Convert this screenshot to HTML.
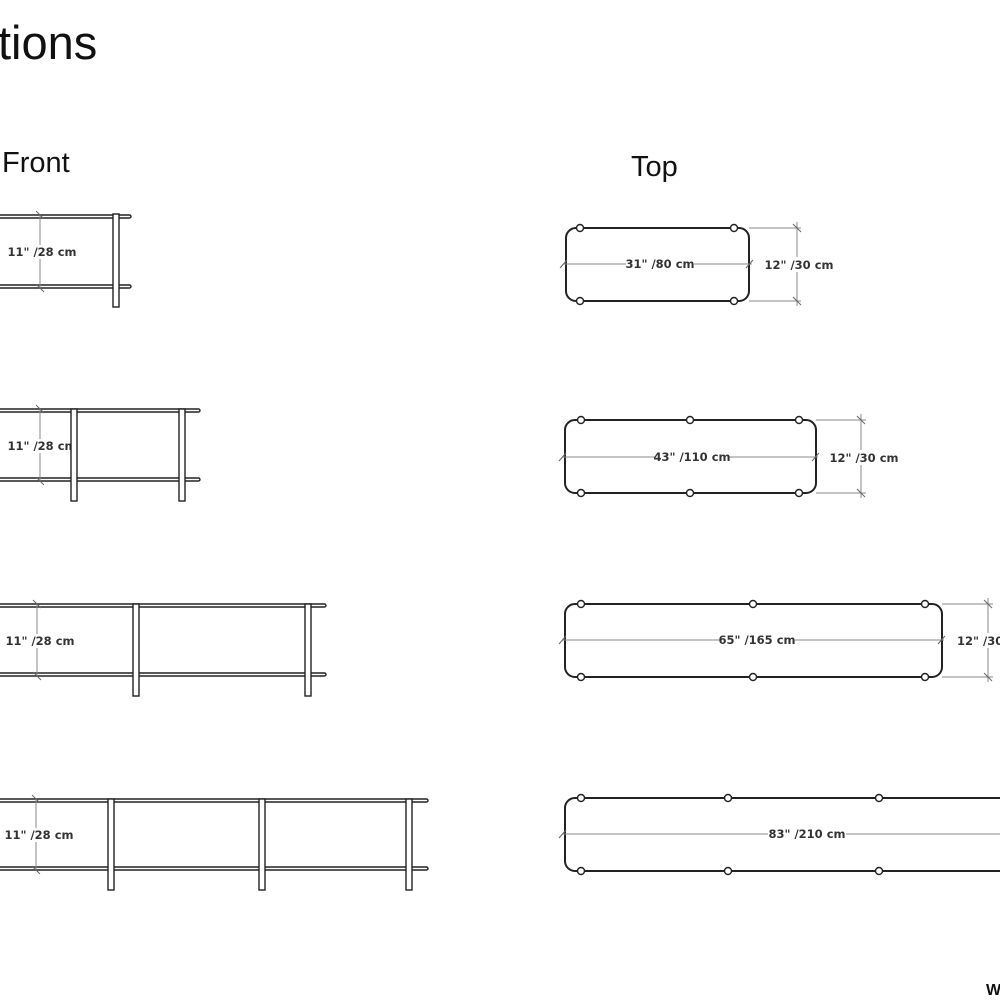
<!DOCTYPE html>
<html><head><meta charset="utf-8"><style>
html,body{margin:0;padding:0;background:#fff;width:1000px;height:1000px;overflow:hidden}
svg{display:block}
.t{font-family:"Liberation Sans",sans-serif;fill:#111}
.l{font-family:"DejaVu Sans","Liberation Sans",sans-serif;font-weight:bold;font-size:11.5px;fill:#333;letter-spacing:0}
.sh{fill:#fff;stroke:#222;stroke-width:1.4}
.dim{stroke:#888;stroke-width:1}
.tk{stroke:#666;stroke-width:1}
.bx{fill:none;stroke:#222;stroke-width:2}
.c{fill:#fff;stroke:#222;stroke-width:1.4}
</style></head><body>
<svg width="1000" height="1000" viewBox="0 0 1000 1000" xmlns="http://www.w3.org/2000/svg">
<text class="t" x="-2" y="59" font-size="47">tions</text>
<text class="t" x="2" y="172" font-size="29">Front</text>
<text class="t" x="631" y="176" font-size="29">Top</text>
<text class="t" x="986" y="995" font-size="16" font-weight="bold">W</text>

<!-- FRONT 1 -->
<rect class="sh" x="-5" y="215" width="136" height="3" rx="1.5"/>
<rect class="sh" x="-5" y="285" width="136" height="3" rx="1.5"/>
<rect class="sh" x="113" y="214" width="6" height="93"/>
<line class="dim" x1="40" y1="215" x2="40" y2="288"/>
<line class="tk" x1="36" y1="211" x2="44" y2="219"/><line class="tk" x1="36" y1="284" x2="44" y2="292"/>
<rect x="8" y="245" width="68" height="14" fill="#fff"/>
<text class="l" x="42" y="256" text-anchor="middle">11" /28 cm</text>

<!-- FRONT 2 -->
<rect class="sh" x="-5" y="409" width="205" height="3" rx="1.5"/>
<rect class="sh" x="-5" y="478" width="205" height="3" rx="1.5"/>
<line class="dim" x1="40" y1="409" x2="40" y2="481"/>
<line class="tk" x1="36" y1="405" x2="44" y2="413"/><line class="tk" x1="36" y1="477" x2="44" y2="485"/>
<rect x="8" y="439" width="66" height="14" fill="#fff"/>
<text class="l" x="42" y="450" text-anchor="middle">11" /28 cm</text>
<rect class="sh" x="71" y="409" width="6" height="92"/>
<rect class="sh" x="179" y="409" width="6" height="92"/>

<!-- FRONT 3 -->
<rect class="sh" x="-5" y="604" width="331" height="3" rx="1.5"/>
<rect class="sh" x="-5" y="673" width="331" height="3" rx="1.5"/>
<line class="dim" x1="37" y1="604" x2="37" y2="676"/>
<line class="tk" x1="33" y1="600" x2="41" y2="608"/><line class="tk" x1="33" y1="672" x2="41" y2="680"/>
<rect x="5" y="634" width="70" height="14" fill="#fff"/>
<text class="l" x="40" y="645" text-anchor="middle">11" /28 cm</text>
<rect class="sh" x="133" y="604" width="6" height="92"/>
<rect class="sh" x="305" y="604" width="6" height="92"/>

<!-- FRONT 4 -->
<rect class="sh" x="-5" y="799" width="433" height="3" rx="1.5"/>
<rect class="sh" x="-5" y="867" width="433" height="3" rx="1.5"/>
<line class="dim" x1="36" y1="799" x2="36" y2="870"/>
<line class="tk" x1="32" y1="795" x2="40" y2="803"/><line class="tk" x1="32" y1="866" x2="40" y2="874"/>
<rect x="4" y="828" width="70" height="14" fill="#fff"/>
<text class="l" x="39" y="839" text-anchor="middle">11" /28 cm</text>
<rect class="sh" x="108" y="799" width="6" height="91"/>
<rect class="sh" x="259" y="799" width="6" height="91"/>
<rect class="sh" x="406" y="799" width="6" height="91"/>

<!-- TOP 1 -->
<rect class="bx" x="566" y="228" width="183" height="73" rx="10"/>
<line class="dim" x1="563" y1="264" x2="752" y2="264"/>
<line class="tk" x1="560" y1="268" x2="567" y2="260"/><line class="tk" x1="746" y1="268" x2="753" y2="260"/>
<rect x="626" y="257" width="68" height="14" fill="#fff"/>
<text class="l" x="660" y="268" text-anchor="middle">31" /80 cm</text>
<line class="dim" x1="749" y1="228" x2="801" y2="228"/><line class="dim" x1="749" y1="301" x2="801" y2="301"/>
<line class="dim" x1="797" y1="222" x2="797" y2="306"/>
<line class="tk" x1="793" y1="224" x2="801" y2="232"/><line class="tk" x1="793" y1="297" x2="801" y2="305"/>
<rect x="764" y="257" width="70" height="15" fill="#fff"/>
<text class="l" x="799" y="269" text-anchor="middle">12" /30 cm</text>
<circle class="c" cx="580" cy="228" r="3.5"/><circle class="c" cx="734" cy="228" r="3.5"/>
<circle class="c" cx="580" cy="301" r="3.5"/><circle class="c" cx="734" cy="301" r="3.5"/>

<!-- TOP 2 -->
<rect class="bx" x="565" y="420" width="251" height="73" rx="10"/>
<line class="dim" x1="562" y1="457" x2="818" y2="457"/>
<line class="tk" x1="559" y1="461" x2="566" y2="453"/><line class="tk" x1="812" y1="461" x2="819" y2="453"/>
<rect x="655" y="450" width="74" height="14" fill="#fff"/>
<text class="l" x="692" y="461" text-anchor="middle">43" /110 cm</text>
<line class="dim" x1="816" y1="420" x2="866" y2="420"/><line class="dim" x1="816" y1="493" x2="866" y2="493"/>
<line class="dim" x1="861" y1="414" x2="861" y2="498"/>
<line class="tk" x1="857" y1="416" x2="865" y2="424"/><line class="tk" x1="857" y1="489" x2="865" y2="497"/>
<rect x="829" y="450" width="70" height="15" fill="#fff"/>
<text class="l" x="864" y="462" text-anchor="middle">12" /30 cm</text>
<circle class="c" cx="581" cy="420" r="3.5"/><circle class="c" cx="690" cy="420" r="3.5"/><circle class="c" cx="799" cy="420" r="3.5"/>
<circle class="c" cx="581" cy="493" r="3.5"/><circle class="c" cx="690" cy="493" r="3.5"/><circle class="c" cx="799" cy="493" r="3.5"/>

<!-- TOP 3 -->
<rect class="bx" x="565" y="604" width="377" height="73" rx="10"/>
<line class="dim" x1="562" y1="640" x2="944" y2="640"/>
<line class="tk" x1="559" y1="644" x2="566" y2="636"/><line class="tk" x1="938" y1="644" x2="945" y2="636"/>
<rect x="719" y="633" width="76" height="14" fill="#fff"/>
<text class="l" x="757" y="644" text-anchor="middle">65" /165 cm</text>
<line class="dim" x1="942" y1="604" x2="993" y2="604"/><line class="dim" x1="942" y1="677" x2="993" y2="677"/>
<line class="dim" x1="988" y1="598" x2="988" y2="682"/>
<line class="tk" x1="984" y1="600" x2="992" y2="608"/><line class="tk" x1="984" y1="673" x2="992" y2="681"/>
<rect x="955" y="633" width="50" height="15" fill="#fff"/>
<text class="l" x="957" y="645">12" /30 cm</text>
<circle class="c" cx="581" cy="604" r="3.5"/><circle class="c" cx="753" cy="604" r="3.5"/><circle class="c" cx="925" cy="604" r="3.5"/>
<circle class="c" cx="581" cy="677" r="3.5"/><circle class="c" cx="753" cy="677" r="3.5"/><circle class="c" cx="925" cy="677" r="3.5"/>

<!-- TOP 4 -->
<rect class="bx" x="565" y="798" width="460" height="73" rx="10"/>
<line class="dim" x1="562" y1="834" x2="1000" y2="834"/>
<line class="tk" x1="559" y1="838" x2="566" y2="830"/>
<rect x="768" y="827" width="78" height="14" fill="#fff"/>
<text class="l" x="807" y="838" text-anchor="middle">83" /210 cm</text>
<circle class="c" cx="581" cy="798" r="3.5"/><circle class="c" cx="728" cy="798" r="3.5"/><circle class="c" cx="879" cy="798" r="3.5"/>
<circle class="c" cx="581" cy="871" r="3.5"/><circle class="c" cx="728" cy="871" r="3.5"/><circle class="c" cx="879" cy="871" r="3.5"/>
</svg>
</body></html>
